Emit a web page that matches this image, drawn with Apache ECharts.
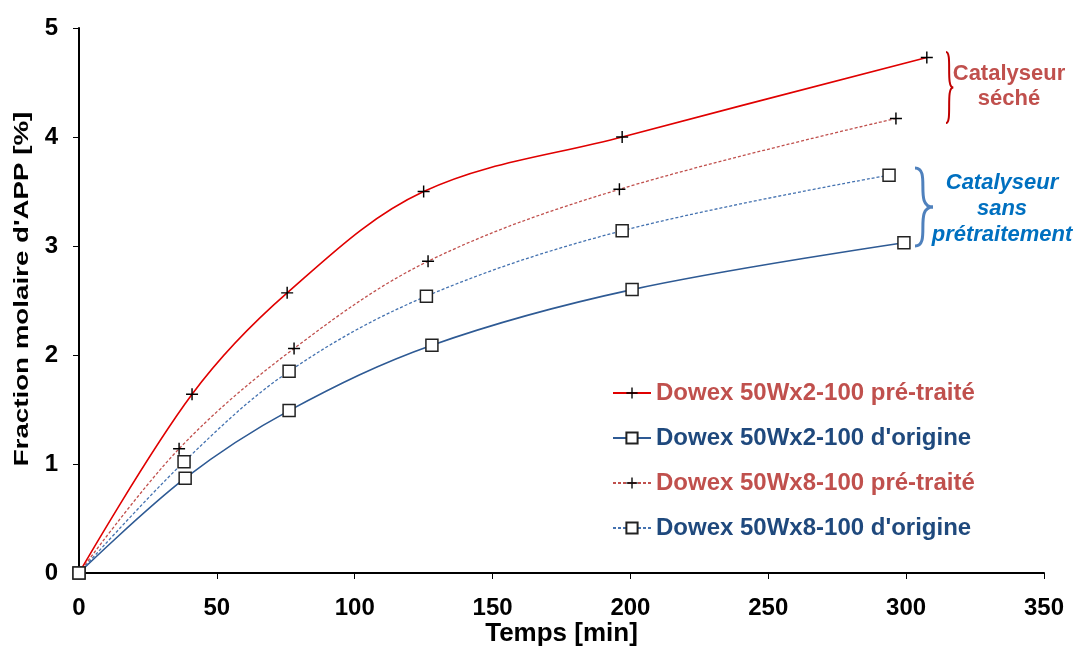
<!DOCTYPE html>
<html><head><meta charset="utf-8">
<script src="https://cdn.jsdelivr.net/npm/echarts@6/dist/echarts.min.js"></script>
<style>html,body{margin:0;padding:0;background:#fff}#c{width:1075px;height:646px}</style>
</head><body><div id="c"></div>
<script>
const xTicks = [0, 50, 100, 150, 200, 250, 300, 350];
const yTicks = [0, 1, 2, 3, 4, 5];
const names = ["Dowex 50Wx2-100 pré-traité", "Dowex 50Wx2-100 d'origine", "Dowex 50Wx8-100 pré-traité", "Dowex 50Wx8-100 d'origine"];
const s1x = [0, 41, 75.5, 125, 197, 307.5];
const s1y = [0, 1.64, 2.57, 3.50, 4.00, 4.73];
const s2x = [0, 38.5, 76.2, 128, 200.6, 299.2];
const s2y = [0, 0.87, 1.49, 2.09, 2.60, 3.03];
const s3x = [0, 36.3, 78, 126.6, 196, 296.3];
const s3y = [0, 1.14, 2.06, 2.86, 3.52, 4.17];
const s4x = [0, 38.1, 76.2, 126, 197, 293.8];
const s4y = [0, 1.02, 1.85, 2.54, 3.14, 3.65];

const FONT = 'Liberation Sans, Arial, sans-serif';
const plus = 'path://M4.4,0h1.2v4.4h4.4v1.2h-4.4v4.4h-1.2v-4.4h-4.4v-1.2h4.4z';
const pair = (xs, ys) => xs.map((x, i) => [x, ys[i]]);
const RED = '#c0504d', BLUE = '#1f497d';

function mk(name, xs, ys, lineColor, dashed, sym) {
  return {
    name, type: 'line', smooth: 0.35, data: pair(xs, ys),
    symbol: sym === 'plus' ? plus : 'rect',
    symbolSize: 12,
    itemStyle: sym === 'plus' ? { color: '#000', borderWidth: 0 } : { color: '#fff', borderColor: '#222', borderWidth: 1.5 },
    lineStyle: { color: lineColor, width: dashed ? 1.3 : 1.6, type: dashed ? [3, 2] : 'solid' },
    emphasis: { disabled: true }, z: 3
  };
}

function brace(x0, yTop, yBot, w, color, lw) {
  const ym = (yTop + yBot) / 2;
  const st = { fill: null, stroke: color, lineWidth: lw };
  return [
    { type: 'bezierCurve', shape: { x1: x0, y1: yTop, cpx1: x0 + w * 1.1, cpy1: yTop, cpx2: x0 - w * 0.1, cpy2: ym, x2: x0 + w * 1.2, y2: ym }, style: st },
    { type: 'bezierCurve', shape: { x1: x0 + w * 1.2, y1: ym, cpx1: x0 - w * 0.1, cpy1: ym, cpx2: x0 + w * 1.1, cpy2: yBot, x2: x0, y2: yBot }, style: st }
  ];
}

const chart = echarts.init(document.getElementById('c'));
chart.setOption({
  animation: false,
  grid: { left: 79, right: 31, top: 28, bottom: 73, containLabel: false, outerBoundsMode: 'none' },
  xAxis: {
    type: 'value', min: 0, max: 350, interval: 50,
    name: 'Temps [min]', nameLocation: 'middle', nameGap: 48, nameMoveOverlap: false,
    nameTextStyle: { fontFamily: FONT, fontWeight: 'bold', fontSize: 26, color: '#000' },
    axisLine: { lineStyle: { color: '#000', width: 2 } },
    axisTick: { show: true, length: 6, lineStyle: { color: '#000', width: 1 } },
    axisLabel: { fontFamily: FONT, fontWeight: 'bold', fontSize: 24, color: '#000', margin: 23, formatter: v => xTicks.includes(v) ? String(v) : '' },
    splitLine: { show: false }
  },
  yAxis: {
    type: 'value', min: 0, max: 5, interval: 1,
    axisLine: { show: true, lineStyle: { color: '#000', width: 2 } },
    axisTick: { show: true, length: 6, lineStyle: { color: '#000', width: 1 } },
    axisLabel: { fontFamily: FONT, fontWeight: 'bold', fontSize: 24, color: '#000', margin: 21, formatter: v => yTicks.includes(v) ? String(v) : '' },
    splitLine: { show: false }
  },
  legend: {
    orient: 'vertical', left: 607, top: 376, itemGap: 21, itemWidth: 38, itemHeight: 14,
    textStyle: { fontFamily: FONT, fontWeight: 'bold', fontSize: 24 },
    data: [
      { name: names[0], textStyle: { color: RED } },
      { name: names[1], textStyle: { color: BLUE } },
      { name: names[2], textStyle: { color: RED } },
      { name: names[3], textStyle: { color: BLUE } }
    ]
  },
  graphic: [
    { type: 'text', x: 22, y: 289, rotation: Math.PI / 2, scaleX: 1.32, style: { text: "Fraction molaire d'APP [%]", fill: '#000', font: 'bold 21px ' + FONT, align: 'center', verticalAlign: 'middle' } },
    ...brace(946, 52, 123, 6, '#c00000', 2),
    { type: 'text', x: 1009, y: 61, style: { text: 'Catalyseur\nséché', fill: RED, font: 'bold 22px ' + FONT, align: 'center', lineHeight: 25 } },
    ...brace(915, 168, 246, 15, '#4f81bd', 3),
    { type: 'text', x: 1002, y: 170, style: { text: 'Catalyseur\nsans\nprétraitement', fill: '#0070c0', font: 'italic bold 22px ' + FONT, align: 'center', lineHeight: 26 } }
  ],
  series: [
    mk(names[0], s1x, s1y, '#e00000', false, 'plus'),
    mk(names[1], s2x, s2y, '#2e5a94', false, 'rect'),
    mk(names[2], s3x, s3y, '#c0504d', true, 'plus'),
    mk(names[3], s4x, s4y, '#4472b0', true, 'rect')
  ]
});
</script></body></html>
